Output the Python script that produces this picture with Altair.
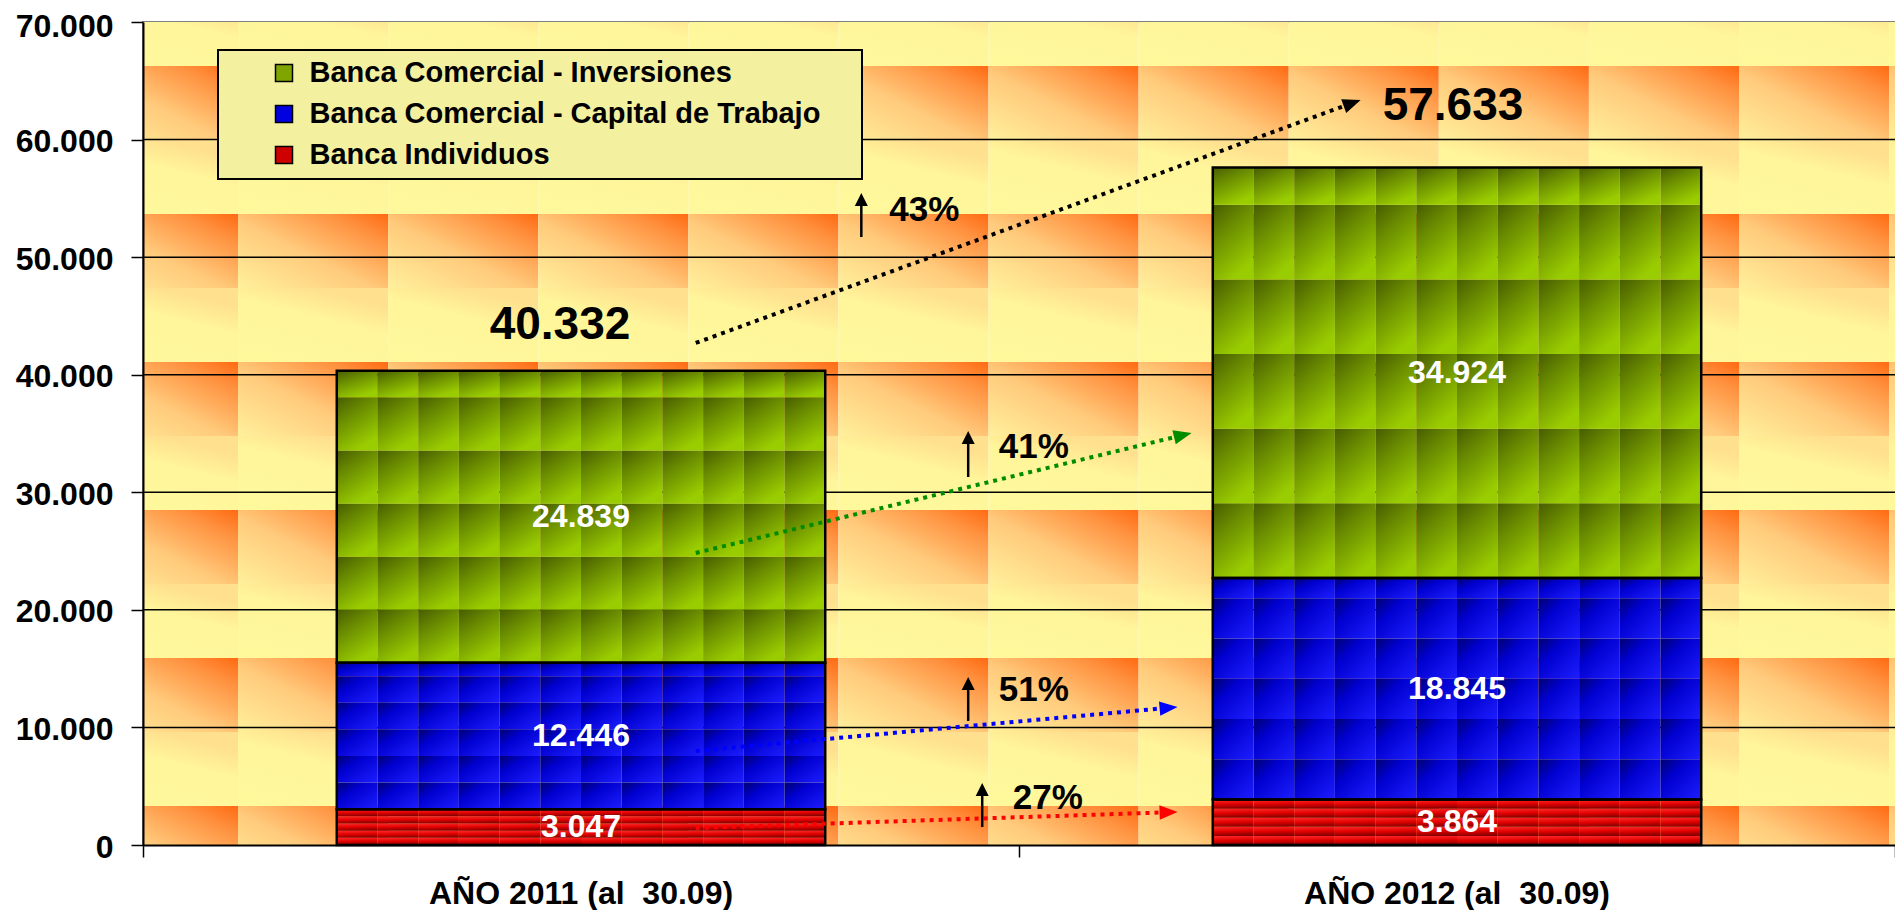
import math
import altair as alt
import pandas as pd
import numpy as np

FONT = "Liberation Sans"

# ---------------- data ----------------
categories = ["AÑO 2011 (al  30.09)", "AÑO 2012 (al  30.09)"]
segments = ["Banca Comercial - Inversiones", "Banca Comercial - Capital de Trabajo", "Banca Individuos"]
individuos = [3047, 3864]
capital = [12446, 18845]
inversiones = [24839, 34924]
totals = [40332, 57633]
y_ticks = [0, 10000, 20000, 30000, 40000, 50000, 60000, 70000]

# growth annotations (positions in band units 0..2 and data units)
growth_labels = ["43%", "41%", "51%", "27%"]
arrow_colors = ["black", "#008C00", "#0000FF", "#FF0000"]
arrow_x0 = [0.631, 0.631, 0.631, 0.631]
arrow_x1 = [1.390, 1.197, 1.181, 1.181]
arrow_y0 = [42700, 24840, 8000, 1450]
arrow_y1 = [63370, 35040, 11740, 2810]
up_x = [0.820, 0.942, 0.942, 0.958]
up_ybot = [51710, 31300, 10550, 1530]
up_ytop = [55460, 35210, 14290, 5270]
pct_x = [0.852, 0.977, 0.977, 0.993]
pct_y = [54010, 33850, 13180, 4000]

W, H = 1752, 823
YMAX = 70000


def fmt(v):
    return f"{v:,}".replace(",", ".")


# ---------------- tables ----------------
bar_rows, cell_rows = [], []
for i, cat in enumerate(categories):
    parts = [
        (segments[2], 0, individuos[i], 5.0),
        (segments[1], individuos[i], individuos[i] + capital[i], 5.5),
        (segments[0], individuos[i] + capital[i], individuos[i] + capital[i] + inversiones[i], 5.5),
    ]
    for seg, b, t, nrows in parts:
        bar_rows.append(dict(cat=cat, seg=seg, start=b, end=t, mid=(b + t) / 2, label=fmt(t - b)))
        rh = (t - b) / nrows
        bounds = [b + k * rh for k in range(int(math.ceil(nrows)))] + [t]
        for r in range(len(bounds) - 1):
            for c in range(12):
                cell_rows.append(dict(cat=cat, seg=seg, col=c, y0=bounds[r], y1=bounds[r + 1]))
bars_df = pd.DataFrame(bar_rows)
cells_df = pd.DataFrame(cell_rows)
tot_df = pd.DataFrame(dict(cat=categories, total=totals, label=[fmt(t) for t in totals]))
grid_df = pd.DataFrame(dict(v=y_ticks[1:-1]))


def px_x(u):
    return u / 2 * W


def px_y(v):
    return H - v / YMAX * H


arr = []
for k in range(4):
    X0, Y0, X1, Y1 = px_x(arrow_x0[k]), px_y(arrow_y0[k]), px_x(arrow_x1[k]), px_y(arrow_y1[k])
    ang = math.atan2(Y1 - Y0, X1 - X0)
    lx, ly = X1 - 10 * math.cos(ang), Y1 - 10 * math.sin(ang)
    arr.append(dict(x0=arrow_x0[k], y0=arrow_y0[k], x1=lx / W * 2, y1=(H - ly) / H * YMAX,
                    tx=arrow_x1[k], ty=arrow_y1[k], ang=math.degrees(ang) % 360,
                    color=arrow_colors[k]))
arr_df = pd.DataFrame(arr)
head_v = 11 / H * YMAX
up_df = pd.DataFrame(dict(x=up_x, yb=up_ybot, yt=up_ytop, yr=[v - head_v for v in up_ytop]))
pct_df = pd.DataFrame(dict(x=pct_x, y=pct_y, label=growth_labels))
band_edges_df = pd.DataFrame(dict(x=[0, 1, 2]))

# ---------------- background texture ----------------
col_edges = np.arange(95.0 - 150.1, W + 150.1, 150.1)
row_tops = np.arange(44.0 - 148.0, H + 148.0, 148.0)
tiles = []
for x in col_edges:
    for y in row_tops:
        tiles.append(dict(x=x, x2=x + 150.1, y=y, y2=y + 74, half="A"))
        tiles.append(dict(x=x, x2=x + 150.1, y=y + 74, y2=y + 148, half="B"))
tiles_df = pd.DataFrame(tiles)


def grad(stops, x1, y1, x2, y2):
    return alt.LinearGradient(gradient="linear",
                              stops=[alt.GradientStop(offset=o, color=c) for o, c in stops],
                              x1=x1, y1=y1, x2=x2, y2=y2)


gradA = grad([(0, "#FFF09C"), (0.45, "#FFCB7C"), (0.8, "#FF9240"), (1, "#FF6A12")], 0, 1, 1, 0)
gradB = grad([(0, "#FFF99C"), (0.7, "#FFF59A"), (1, "#FFE08E")], 0, 1, 0.5, 0)

bx = alt.Scale(domain=[0, W], nice=False, zero=False)
by = alt.Scale(domain=[0, H], nice=False, zero=False, reverse=True)
bg_layers = []
for half, g in [("A", gradA), ("B", gradB)]:
    bg_layers.append(
        alt.Chart(tiles_df).transform_filter(alt.datum.half == half)
        .mark_rect(fill=g, clip=True, strokeWidth=0)
        .encode(x=alt.X("x:Q", scale=bx, axis=None), x2="x2:Q",
                y=alt.Y("y:Q", scale=by, axis=None), y2="y2:Q")
    )
bg = alt.layer(*bg_layers)

# ---------------- main bars ----------------
xscale = alt.Scale(domain=categories, paddingInner=0.4424, paddingOuter=0.2212)
xaxis = alt.Axis(title=None, labelAngle=0, labelFont=FONT, labelFontSize=32, labelFontWeight="bold",
                 labelColor="black", labelPadding=21, labelLimit=1000, tickSize=12, tickOpacity=0,
                 labelExpr="replace(datum.label, '  ', '\u00a0 ')",
                 domainColor="black", domainWidth=2, grid=False, zindex=1)
yscale = alt.Scale(domain=[0, YMAX], nice=False, zero=True)
yaxis = alt.Axis(title=None, values=y_ticks, labelExpr="replace(format(datum.value, ','), ',', '.')",
                 labelFont=FONT, labelFontSize=32, labelFontWeight="bold", labelColor="black",
                 labelPadding=18,
                 labelOffset=alt.condition("datum.value == 70000", alt.value(4), alt.value(2)),
                 tickSize=12, tickColor="black", tickWidth=1.5,
                 domainColor="black", domainWidth=2, grid=False, zindex=1)


def X():
    return alt.X("cat:N", scale=xscale, axis=xaxis, sort=categories)


def Y(f):
    return alt.Y(f, scale=yscale, axis=yaxis)


grid = alt.Chart(grid_df).mark_rule(color="black", strokeWidth=1.5).encode(y=Y("v:Q"))

cell_grads = {
    segments[0]: grad([(0, "#475C00"), (0.4, "#6A8C00"), (1, "#9ACD00")], 0, 0, 0.5, 1),
    segments[1]: grad([(0, "#000070"), (0.35, "#0000D0"), (1, "#1E1EFF")], 0, 0, 1, 1),
    segments[2]: grad([(0, "#FF2A2A"), (0.55, "#E00000"), (1, "#8A0000")], 0, 0, 0.15, 1),
}
cell_layers = []
for seg in segments:
    cell_layers.append(
        alt.Chart(cells_df).transform_filter(alt.datum.seg == seg)
        .mark_bar(fill=cell_grads[seg], strokeWidth=0)
        .encode(x=X(), xOffset=alt.XOffset("col:O", scale=alt.Scale(paddingInner=0, paddingOuter=0)),
                y=Y("y0:Q"), y2="y1:Q")
    )

legend = alt.Legend(orient="none", legendX=75, legendY=28, title="WW", titleOrient="right",
                    titleColor="transparent", titleFontSize=14, titlePadding=6,
                    fillColor="#F3F0A0",
                    strokeColor="black", padding=8.5, symbolType="square", symbolSize=289,
                    symbolOffset=43, labelOffset=11, labelFont=FONT, labelFontSize=29,
                    labelFontWeight="bold", labelColor="black", rowPadding=11, labelLimit=1000,
                    symbolStrokeColor="black", symbolStrokeWidth=1.5, symbolOpacity=1)
outline = alt.Chart(bars_df).mark_bar(fillOpacity=0, stroke="black", strokeWidth=2.5).encode(
    x=X(), y=Y("start:Q"), y2="end:Q",
    color=alt.Color("seg:N", scale=alt.Scale(domain=segments, range=["#7FA600", "#0000E0", "#D00000"]),
                    legend=legend))

seg_text = alt.Chart(bars_df).mark_text(color="white", font=FONT, fontSize=32, fontWeight="bold").encode(
    x=X(), y=Y("mid:Q"), text="label:N")

tot_layers = []
for cat, dx, dy in [(categories[0], -21, -46), (categories[1], -4, -61)]:
    tot_layers.append(
        alt.Chart(tot_df).transform_filter(alt.datum.cat == cat)
        .mark_text(color="black", font=FONT, fontSize=46, fontWeight="bold", dx=dx, dy=dy)
        .encode(x=X(), y=Y("total:Q"), text="label:N")
    )

main = alt.layer(grid, *cell_layers, outline, seg_text, *tot_layers)

# ---------------- annotations ----------------
xq = alt.Scale(domain=[0, 2], nice=False, zero=False)
yq = alt.Scale(domain=[0, YMAX], nice=False, zero=True)
xq_axis = alt.Axis(orient="bottom", values=[0, 1, 2], labels=False, domain=False, grid=False,
                   title=None, tickSize=12, tickColor="black", tickWidth=1.5, zindex=1)
RIGHT_HEAD = "M0,0 L-2,-0.8 L-2,0.8 Z"
UP_HEAD = "M0,0 L-0.75,1.5 L0.75,1.5 Z"


def XQ(f):
    return alt.X(f, scale=xq, axis=xq_axis)


def YQ(f):
    return alt.Y(f, scale=yq, axis=None)


edge_ticks = alt.Chart(band_edges_df).mark_point(opacity=0, size=1).encode(x=XQ("x:Q"))
arrow_lines = alt.Chart(arr_df).mark_rule(strokeWidth=4, strokeDash=[4, 5]).encode(
    x=XQ("x0:Q"), x2="x1:Q", y=YQ("y0:Q"), y2="y1:Q",
    color=alt.Color("color:N", scale=None))
arrow_heads = alt.Chart(arr_df).mark_point(shape=RIGHT_HEAD, filled=True, size=324, opacity=1,
                                           strokeWidth=0).encode(
    x=XQ("tx:Q"), y=YQ("ty:Q"),
    angle=alt.Angle("ang:Q", scale=None), color=alt.Color("color:N", scale=None))
up_rules = alt.Chart(up_df).mark_rule(color="black", strokeWidth=2.5).encode(
    x=XQ("x:Q"), y=YQ("yb:Q"), y2="yr:Q")
up_heads = alt.Chart(up_df).mark_point(shape=UP_HEAD, filled=True, size=300, color="black",
                                       opacity=1, strokeWidth=0).encode(
    x=XQ("x:Q"), y=YQ("yt:Q"))
pct_text = alt.Chart(pct_df).mark_text(align="left", baseline="middle", color="black", font=FONT,
                                       fontSize=35, fontWeight="bold").encode(
    x=XQ("x:Q"), y=YQ("y:Q"), text="label:N")

ann = alt.layer(edge_ticks, arrow_lines, arrow_heads, up_rules, up_heads, pct_text)

chart = (
    alt.layer(bg, main, ann)
    .resolve_scale(x="independent", y="independent")
    .properties(width=W, height=H, autosize=alt.AutoSizeParams(type="none"),
                padding={"left": 135, "top": 14, "right": 0, "bottom": 65})
    .configure_view(stroke="#808080", strokeWidth=2)
    .configure_legend(strokeWidth=2)
)

chart.save("out.html", embed_options={"renderer": "svg", "actions": False})
